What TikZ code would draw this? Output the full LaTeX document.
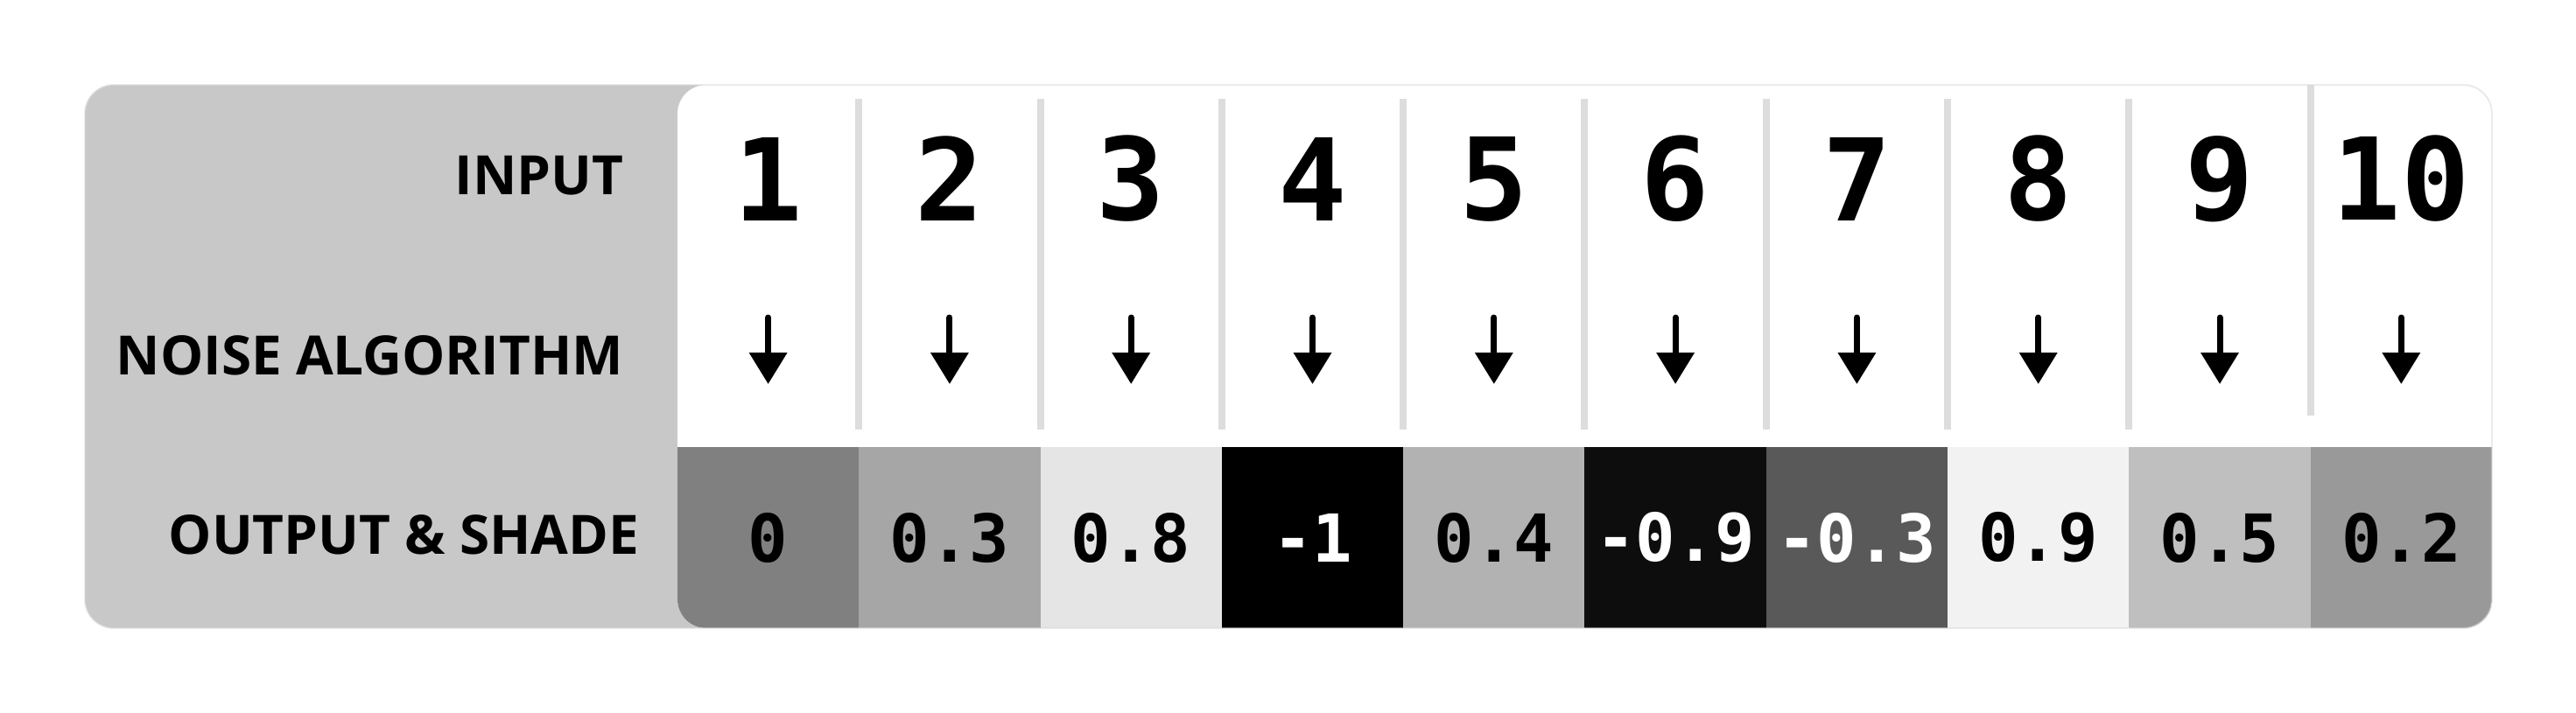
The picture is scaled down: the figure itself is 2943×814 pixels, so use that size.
\documentclass[tikz,border=0pt]{standalone}
\usepackage{fontspec}
\usetikzlibrary{positioning}
\usetikzlibrary{arrows.meta}
\newfontfamily\labelfont{Open Sans}
\newfontfamily\numfont{DejaVu Sans Mono}
\definecolor{panel}{gray}{0.784}
\definecolor{sepline}{gray}{0.867}
\definecolor{frameline}{gray}{0.85}

\begin{document}
\begin{tikzpicture}[x=0.25pt,y=-0.25pt,node distance=0pt,
  rowlabel/.style={anchor=east,inner sep=0pt,font=\labelfont\bfseries\fontsize{15.5}{18}\selectfont},
  num/.style={inner sep=0pt,outer sep=0pt,minimum width=51.825pt,font=\numfont\bfseries\fontsize{32.6}{36}\selectfont},
  gap/.style={inner sep=0pt,outer sep=0pt,minimum width=51.825pt,minimum height=19pt},
  cell/.style={inner sep=0pt,outer sep=0pt,minimum width=51.825pt,minimum height=51.75pt,font=\numfont\bfseries\fontsize{18.9}{22}\selectfont},
  dark/.style={cell,text=white},
  sepbar/.style={draw=sepline,line width=2pt},
  arr/.style={-{Triangle[width=10.5pt,length=9pt]},line width=1.75pt,line cap=round}]
  \useasboundingbox (0,0) rectangle (2943,814);
  % panel, white table and shaded outputs
  \begin{scope}
    \clip[rounded corners=8.25pt] (97,97) rectangle (2847,718);
    \fill[panel] (97,97) rectangle (2847,718);
    \fill[white,rounded corners=8.25pt] (774,97) rectangle (2900,718);
    \clip[rounded corners=8.25pt] (774,97) rectangle (2900,718);
    \node[cell,fill=black!50](o1) at (877.6,614.5) {0};
    \node[cell,fill=black!35,right= of o1](o2) {0.3};
    \node[cell,fill=black!10,right= of o2](o3) {0.8};
    \node[dark,fill=black,right= of o3](o4) {-1};
    \node[cell,fill=black!30,right= of o4](o5) {0.4};
    \node[dark,fill=black!95,right= of o5](o6) {-0.9};
    \node[dark,fill=black!65,right= of o6](o7) {-0.3};
    \node[cell,fill=black!5,right= of o7](o8) {0.9};
    \node[cell,fill=black!25,right= of o8](o9) {0.5};
    \node[cell,fill=black!40,right= of o9](o10) {0.2};
  \end{scope}
  % row labels
  \node[rowlabel](linput) at (713,201) {INPUT};
  \node[rowlabel](lnoise) at (713,406) {NOISE ALGORITHM};
  \node[rowlabel](loutput) at (731,611) {OUTPUT \& SHADE};
  % inputs
  \node[num](n1) at (877.6,204.5) {1};
  \node[num,right= of n1](n2) {2};
  \node[num,right= of n2](n3) {3};
  \node[num,right= of n3](n4) {4};
  \node[num,right= of n4](n5) {5};
  \node[num,right= of n5](n6) {6};
  \node[num,right= of n6](n7) {7};
  \node[num,right= of n7](n8) {8};
  \node[num,right= of n8](n9) {9};
  \node[num,right= of n9](n10) {10};
  % noise step
  \node[gap](g1) at (877.6,401) {};
  \node[gap,right= of g1](g2) {};
  \node[gap,right= of g2](g3) {};
  \node[gap,right= of g3](g4) {};
  \node[gap,right= of g4](g5) {};
  \node[gap,right= of g5](g6) {};
  \node[gap,right= of g6](g7) {};
  \node[gap,right= of g7](g8) {};
  \node[gap,right= of g8](g9) {};
  \node[gap,right= of g9](g10) {};
  \draw[arr] (g1.north)--(g1.south);
  \draw[arr] (g2.north)--(g2.south);
  \draw[arr] (g3.north)--(g3.south);
  \draw[arr] (g4.north)--(g4.south);
  \draw[arr] (g5.north)--(g5.south);
  \draw[arr] (g6.north)--(g6.south);
  \draw[arr] (g7.north)--(g7.south);
  \draw[arr] (g8.north)--(g8.south);
  \draw[arr] (g9.north)--(g9.south);
  \draw[arr] (g10.north)--(g10.south);
  % column separators
  \coordinate (bartop) at (0,113);
  \coordinate (barbot) at (0,491);
  \coordinate (lasttop) at (0,97);
  \coordinate (lastbot) at (0,475);
  \draw[sepbar] (n1.east |- bartop)--(n1.east |- barbot);
  \draw[sepbar] (n2.east |- bartop)--(n2.east |- barbot);
  \draw[sepbar] (n3.east |- bartop)--(n3.east |- barbot);
  \draw[sepbar] (n4.east |- bartop)--(n4.east |- barbot);
  \draw[sepbar] (n5.east |- bartop)--(n5.east |- barbot);
  \draw[sepbar] (n6.east |- bartop)--(n6.east |- barbot);
  \draw[sepbar] (n7.east |- bartop)--(n7.east |- barbot);
  \draw[sepbar] (n8.east |- bartop)--(n8.east |- barbot);
  \draw[sepbar] (n9.east |- lasttop)--(n9.east |- lastbot);
  % faint frame
  \draw[frameline,draw opacity=0.5,line width=0.5pt,rounded corners=8.25pt] (97,97) rectangle (2847,718);
\end{tikzpicture}
\end{document}
